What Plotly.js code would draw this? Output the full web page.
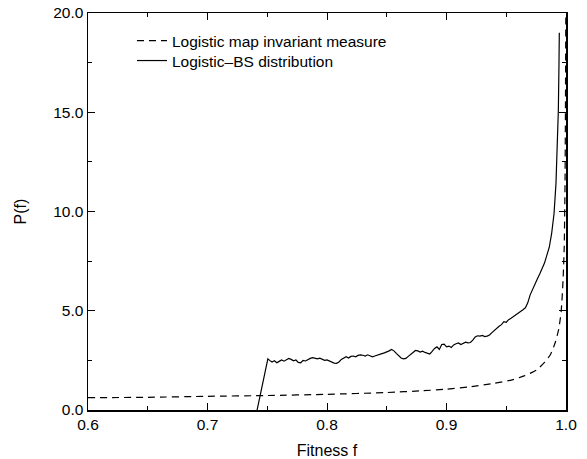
<!DOCTYPE html>
<html>
<head>
<meta charset="utf-8">
<script src="https://cdn.plot.ly/plotly-3.0.1.min.js"></script>
<style>
  html, body { margin: 0; padding: 0; background: #fff; }
  #chart { width: 587px; height: 459px; }
</style>
</head>
<body>
<div id="chart"></div>
<script>
// Invariant measure of the logistic map (dashed curve)
const measureF = [0.60, 0.65, 0.70, 0.75, 0.80, 0.85, 0.88, 0.90, 0.92, 0.94, 0.955, 0.965,
  0.975, 0.982, 0.987, 0.991, 0.994, 0.996, 0.9975, 0.9985, 0.9992, 0.9996, 0.99985];
const measureP = [0.62, 0.64, 0.69, 0.73, 0.79, 0.88, 0.97, 1.05, 1.17, 1.35, 1.52, 1.72,
  2.0, 2.4, 2.8, 3.4, 4.1, 5.0, 6.5, 8.2, 11.5, 16.0, 20.0];

// Fitness distribution of the Logistic-BS model (solid curve)
const bsF = [0.7415, 0.7505, 0.752, 0.754, 0.756, 0.758, 0.760, 0.762, 0.764, 0.766, 0.768,
  0.770, 0.772, 0.774, 0.776, 0.778, 0.780, 0.782, 0.784, 0.786, 0.788, 0.790, 0.792, 0.794,
  0.796, 0.798, 0.800, 0.802, 0.804, 0.806, 0.808, 0.810, 0.812, 0.814, 0.816, 0.818, 0.820,
  0.822, 0.824, 0.826, 0.828, 0.830, 0.832, 0.834, 0.836, 0.838, 0.840, 0.842, 0.844, 0.846,
  0.848, 0.850, 0.852, 0.854, 0.856, 0.858, 0.860, 0.862, 0.864, 0.866, 0.868, 0.870, 0.872,
  0.874, 0.876, 0.878, 0.880, 0.882, 0.884, 0.886, 0.888, 0.890, 0.892, 0.894, 0.896, 0.898,
  0.900, 0.902, 0.904, 0.906, 0.908, 0.910, 0.912, 0.914, 0.916, 0.918, 0.920, 0.922, 0.924,
  0.926, 0.928, 0.930, 0.932, 0.934, 0.936, 0.938, 0.940, 0.942, 0.944, 0.946, 0.948, 0.950,
  0.952, 0.954, 0.956, 0.958, 0.960, 0.962, 0.964, 0.966, 0.968, 0.970, 0.972, 0.974, 0.976,
  0.978, 0.980, 0.982, 0.984, 0.986, 0.988, 0.990, 0.9916, 0.9927, 0.9936, 0.9941, 0.9944];
const bsP = [0.0, 2.58, 2.50, 2.42, 2.48, 2.38, 2.45, 2.52, 2.46, 2.55, 2.60,
  2.55, 2.48, 2.52, 2.40, 2.38, 2.50, 2.47, 2.55, 2.60, 2.64, 2.62, 2.58, 2.61,
  2.55, 2.50, 2.52, 2.46, 2.40, 2.36, 2.35, 2.42, 2.55, 2.63, 2.68, 2.62, 2.70,
  2.72, 2.68, 2.75, 2.78, 2.76, 2.72, 2.78, 2.74, 2.68, 2.72, 2.75, 2.80, 2.84,
  2.88, 2.92, 2.98, 3.05, 2.98, 2.85, 2.72, 2.62, 2.58, 2.60, 2.70, 2.82, 2.90,
  3.00, 2.98, 2.92, 2.96, 2.90, 2.86, 2.82, 2.95, 3.10, 3.18, 3.05, 3.30, 3.32,
  3.18, 3.22, 3.15, 3.28, 3.34, 3.38, 3.30, 3.36, 3.42, 3.38, 3.40, 3.52, 3.68,
  3.74, 3.72, 3.76, 3.70, 3.72, 3.78, 3.90, 4.02, 4.12, 4.22, 4.30, 4.45, 4.42,
  4.55, 4.62, 4.70, 4.82, 4.90, 4.98, 5.05, 5.15, 5.40, 5.80, 6.10, 6.38, 6.60,
  6.85, 7.10, 7.40, 7.80, 8.20, 8.90, 9.90, 11.4, 13.1, 15.1, 17.3, 19.0];

const xTickVals = [0.6, 0.7, 0.8, 0.9, 1.0];
const xTickText = ["0.6", "0.7", "0.8", "0.9", "1.0"];
const yTickVals = [0, 5, 10, 15, 20];
const yTickText = ["0.0", "5.0", "10.0", "15.0", "20.0"];

const FONT = "Liberation Sans, Arial, Helvetica, sans-serif";
const FS = 15.5;

const traces = [
  {
    x: measureF, y: measureP, type: "scatter", mode: "lines",
    name: "Logistic map invariant measure", legend: "legend",
    line: { color: "#000", width: 1.2, dash: "7px,5px", shape: "spline", smoothing: 0.6 }
  },
  {
    x: bsF, y: bsP, type: "scatter", mode: "lines",
    name: "Logistic\u2013BS distribution", legend: "legend2",
    line: { color: "#000", width: 1.2 }
  }
];

const axisCommon = {
  showgrid: false, zeroline: false,
  showline: true, linecolor: "#000", linewidth: 1.5, mirror: "allticks",
  ticks: "inside", ticklen: 7, tickwidth: 1, tickcolor: "#000",
  tickfont: { family: FONT, size: FS, color: "#000" }
};

const legendCommon = {
  xanchor: "left", yanchor: "top",
  bgcolor: "rgba(0,0,0,0)", borderwidth: 0,
  font: { family: FONT, size: FS, color: "#000" }
};

const layout = {
  width: 587, height: 459,
  margin: { l: 88, r: 21, t: 13, b: 49 },
  paper_bgcolor: "#fff", plot_bgcolor: "#fff",
  showlegend: true,
  legend: Object.assign({ x: 0.092, y: 0.972 }, legendCommon),
  legend2: Object.assign({ x: 0.092, y: 0.922 }, legendCommon),
  xaxis: Object.assign({}, axisCommon, {
    range: [0.6, 1.0],
    tickmode: "array", tickvals: xTickVals, ticktext: xTickText,
    minor: { dtick: 0.05, tick0: 0.6, ticks: "inside", ticklen: 4, tickcolor: "#000", tickwidth: 1 },
    title: { text: "Fitness f", font: { family: FONT, size: FS + 0.5, color: "#000" }, standoff: 12 }
  }),
  yaxis: Object.assign({}, axisCommon, {
    range: [0, 20],
    tickmode: "array", tickvals: yTickVals, ticktext: yTickText,
    minor: { dtick: 2.5, tick0: 0, ticks: "inside", ticklen: 4, tickcolor: "#000", tickwidth: 1 },
    title: { text: "P(f)", font: { family: FONT, size: FS + 0.5, color: "#000" }, standoff: 22 }
  })
};

Plotly.newPlot("chart", traces, layout, { staticPlot: true, displayModeBar: false });
</script>
</body>
</html>
